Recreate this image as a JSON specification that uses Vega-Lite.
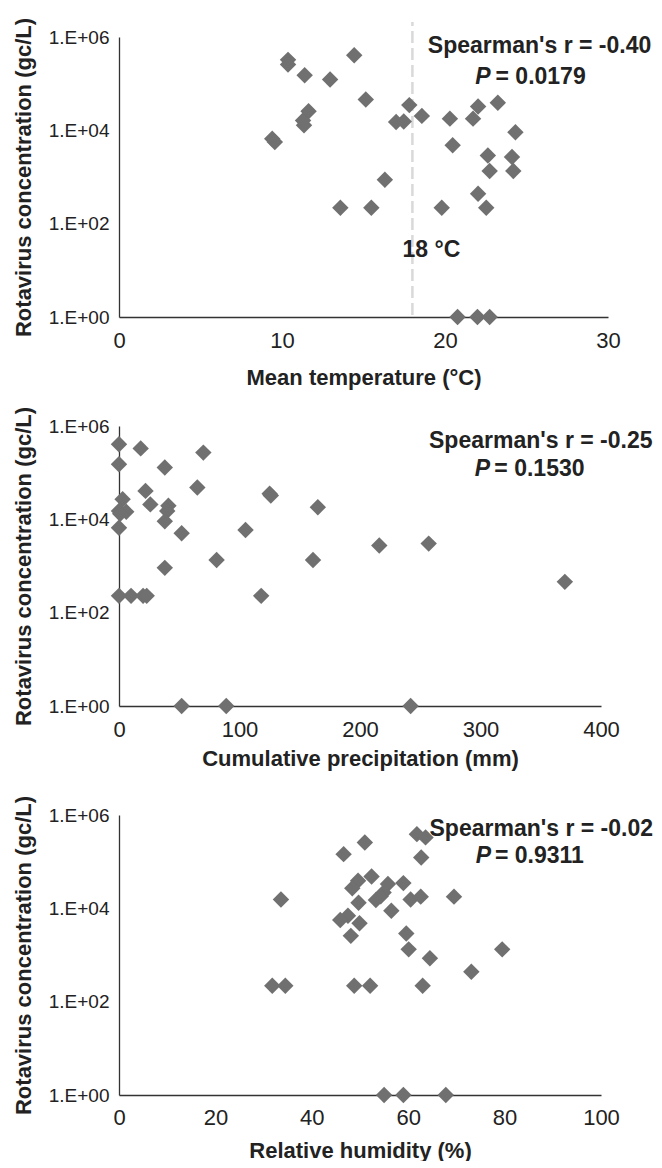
{
  "$schema": "https://vega.github.io/schema/vega-lite/v6.json",
  "padding": {"left": 12, "top": 17, "right": 0, "bottom": 0},
  "background": "white",
  "bounds": "flush",
  "spacing": 109,
  "datasets": {
    "temp": [
      {"t": 10.37, "c": 324000}, {"t": 10.37, "c": 257000}, {"t": 11.39, "c": 151000}, {"t": 12.95, "c": 123000},
      {"t": 14.43, "c": 407000}, {"t": 15.14, "c": 45700}, {"t": 11.63, "c": 25700}, {"t": 11.29, "c": 16200},
      {"t": 11.35, "c": 12900}, {"t": 9.4, "c": 6610}, {"t": 9.56, "c": 5620}, {"t": 17.0, "c": 15100},
      {"t": 17.47, "c": 15500}, {"t": 17.81, "c": 34700}, {"t": 18.58, "c": 20400}, {"t": 20.3, "c": 17800},
      {"t": 20.47, "c": 4790}, {"t": 21.72, "c": 17800}, {"t": 22.03, "c": 32400}, {"t": 23.24, "c": 38900},
      {"t": 24.32, "c": 9120}, {"t": 22.63, "c": 2880}, {"t": 22.74, "c": 1350}, {"t": 24.11, "c": 2690},
      {"t": 24.19, "c": 1350}, {"t": 16.31, "c": 871}, {"t": 13.58, "c": 219}, {"t": 15.48, "c": 219},
      {"t": 19.8, "c": 219}, {"t": 22.03, "c": 437}, {"t": 22.53, "c": 219}, {"t": 20.77, "c": 1},
      {"t": 21.99, "c": 1}, {"t": 22.74, "c": 1}
    ],
    "precip": [
      {"p": 0, "c": 407000}, {"p": 0, "c": 151000}, {"p": 18, "c": 331000}, {"p": 70, "c": 269000},
      {"p": 38, "c": 129000}, {"p": 22, "c": 40700}, {"p": 65, "c": 47900}, {"p": 125, "c": 35500},
      {"p": 126, "c": 32400}, {"p": 3, "c": 26900}, {"p": 26, "c": 20900}, {"p": 41, "c": 19500},
      {"p": 40, "c": 15100}, {"p": 0, "c": 15100}, {"p": 6, "c": 14500}, {"p": 1, "c": 13200},
      {"p": 38, "c": 9120}, {"p": 0, "c": 6610}, {"p": 52, "c": 5010}, {"p": 105, "c": 5890},
      {"p": 165, "c": 18200}, {"p": 81, "c": 1350}, {"p": 161, "c": 1350}, {"p": 38, "c": 912},
      {"p": 216, "c": 2750}, {"p": 257, "c": 3020}, {"p": 0, "c": 229}, {"p": 10, "c": 229},
      {"p": 20, "c": 229}, {"p": 23, "c": 229}, {"p": 118, "c": 229}, {"p": 370, "c": 457},
      {"p": 52, "c": 1}, {"p": 89, "c": 1}, {"p": 242, "c": 1}
    ],
    "hum": [
      {"h": 61.8, "c": 389000}, {"h": 63.6, "c": 331000}, {"h": 51.0, "c": 257000}, {"h": 46.6, "c": 145000},
      {"h": 62.7, "c": 123000}, {"h": 52.4, "c": 47900}, {"h": 49.6, "c": 38900}, {"h": 48.4, "c": 26900},
      {"h": 59.0, "c": 34700}, {"h": 55.8, "c": 33100}, {"h": 54.9, "c": 21900}, {"h": 54.3, "c": 18200},
      {"h": 53.3, "c": 15100}, {"h": 60.5, "c": 15500}, {"h": 62.6, "c": 17800}, {"h": 69.5, "c": 17800},
      {"h": 33.6, "c": 15500}, {"h": 49.7, "c": 13200}, {"h": 56.5, "c": 8910}, {"h": 47.5, "c": 6920},
      {"h": 45.9, "c": 5620}, {"h": 49.9, "c": 4790}, {"h": 48.1, "c": 2570}, {"h": 59.6, "c": 2880},
      {"h": 60.1, "c": 1320}, {"h": 64.5, "c": 851}, {"h": 79.5, "c": 1320}, {"h": 73.1, "c": 437},
      {"h": 31.8, "c": 219}, {"h": 34.5, "c": 219}, {"h": 48.8, "c": 219}, {"h": 52.1, "c": 219},
      {"h": 63.0, "c": 219}, {"h": 55.0, "c": 1}, {"h": 59.0, "c": 1}, {"h": 67.8, "c": 1}
    ]
  },
  "vconcat": [
    {
      "width": 489,
      "height": 280,
      "layer": [
        {
          "data": {"values": [{"x": 18, "y": 1.1, "y2": 2100000}]},
          "mark": {"type": "rule", "color": "#d9d9d9", "strokeWidth": 2.5, "strokeDash": [12, 5]},
          "encoding": {
            "x": {"field": "x", "type": "quantitative", "scale": {"domain": [0, 30], "nice": false}},
            "y": {"field": "y", "type": "quantitative", "scale": {"type": "log", "domain": [1, 1000000], "nice": false}},
            "y2": {"field": "y2"}
          }
        },
        {
          "data": {"name": "temp"},
          "mark": {"type": "point", "shape": "diamond", "filled": true, "size": 270, "color": "#707070", "opacity": 1},
          "encoding": {
            "x": {"field": "t", "type": "quantitative", "scale": {"domain": [0, 30], "nice": false},
              "axis": {"values": [0, 10, 20, 30], "title": "Mean temperature (°C)", "titlePadding": 16, "labelPadding": 13}},
            "y": {"field": "c", "type": "quantitative", "scale": {"type": "log", "domain": [1, 1000000], "nice": false},
              "axis": {"values": [1, 100, 10000, 1000000], "title": "Rotavirus concentration (gc/L)",
                "labelExpr": "datum.value == 1 ? '1.E+00' : datum.value == 100 ? '1.E+02' : datum.value == 10000 ? '1.E+04' : '1.E+06'"}}
          }
        },
        {
          "data": {"values": [
            {"x": 25.8, "y": 447000, "label": "Spearman's r = -0.40", "a": "center"},
            {"x": 22.8, "y": 96800, "label": "P", "a": "right"},
            {"x": 23.1, "y": 96800, "label": "= 0.0179", "a": "left"},
            {"x": 19.17, "y": 19, "label": "18 °C", "a": "center"}
          ]},
          "layer": [
            {"transform": [{"filter": "datum.a == 'center'"}],
             "mark": {"type": "text", "align": "center", "baseline": "alphabetic", "fontSize": 23, "fontWeight": "bold", "font": "Liberation Sans", "color": "#222"},
             "encoding": {"x": {"field": "x", "type": "quantitative"}, "y": {"field": "y", "type": "quantitative"}, "text": {"field": "label"}}},
            {"transform": [{"filter": "datum.a == 'right'"}],
             "mark": {"type": "text", "align": "right", "baseline": "alphabetic", "fontSize": 23, "fontWeight": "bold", "fontStyle": "italic", "font": "Liberation Sans", "color": "#222"},
             "encoding": {"x": {"field": "x", "type": "quantitative"}, "y": {"field": "y", "type": "quantitative"}, "text": {"field": "label"}}},
            {"transform": [{"filter": "datum.a == 'left'"}],
             "mark": {"type": "text", "align": "left", "baseline": "alphabetic", "fontSize": 23, "fontWeight": "bold", "font": "Liberation Sans", "color": "#222"},
             "encoding": {"x": {"field": "x", "type": "quantitative"}, "y": {"field": "y", "type": "quantitative"}, "text": {"field": "label"}}}
          ]
        }
      ]
    },
    {
      "width": 482,
      "height": 280,
      "layer": [
        {
          "data": {"name": "precip"},
          "mark": {"type": "point", "shape": "diamond", "filled": true, "size": 270, "color": "#707070", "opacity": 1},
          "encoding": {
            "x": {"field": "p", "type": "quantitative", "scale": {"domain": [0, 400], "nice": false},
              "axis": {"values": [0, 100, 200, 300, 400], "title": "Cumulative precipitation (mm)", "titlePadding": 8, "labelPadding": 13}},
            "y": {"field": "c", "type": "quantitative", "scale": {"type": "log", "domain": [1, 1000000], "nice": false},
              "axis": {"values": [1, 100, 10000, 1000000], "title": "Rotavirus concentration (gc/L)",
                "labelExpr": "datum.value == 1 ? '1.E+00' : datum.value == 100 ? '1.E+02' : datum.value == 10000 ? '1.E+04' : '1.E+06'"}}
          }
        },
        {
          "data": {"values": [
            {"x": 350, "y": 344000, "label": "Spearman's r = -0.25", "a": "center"},
            {"x": 308, "y": 84800, "label": "P", "a": "right"},
            {"x": 311.5, "y": 84800, "label": "= 0.1530", "a": "left"}
          ]},
          "layer": [
            {"transform": [{"filter": "datum.a == 'center'"}],
             "mark": {"type": "text", "align": "center", "baseline": "alphabetic", "fontSize": 23, "fontWeight": "bold", "font": "Liberation Sans", "color": "#222"},
             "encoding": {"x": {"field": "x", "type": "quantitative"}, "y": {"field": "y", "type": "quantitative"}, "text": {"field": "label"}}},
            {"transform": [{"filter": "datum.a == 'right'"}],
             "mark": {"type": "text", "align": "right", "baseline": "alphabetic", "fontSize": 23, "fontWeight": "bold", "fontStyle": "italic", "font": "Liberation Sans", "color": "#222"},
             "encoding": {"x": {"field": "x", "type": "quantitative"}, "y": {"field": "y", "type": "quantitative"}, "text": {"field": "label"}}},
            {"transform": [{"filter": "datum.a == 'left'"}],
             "mark": {"type": "text", "align": "left", "baseline": "alphabetic", "fontSize": 23, "fontWeight": "bold", "font": "Liberation Sans", "color": "#222"},
             "encoding": {"x": {"field": "x", "type": "quantitative"}, "y": {"field": "y", "type": "quantitative"}, "text": {"field": "label"}}}
          ]
        }
      ]
    },
    {
      "width": 482,
      "height": 280,
      "layer": [
        {
          "data": {"name": "hum"},
          "mark": {"type": "point", "shape": "diamond", "filled": true, "size": 270, "color": "#707070", "opacity": 1},
          "encoding": {
            "x": {"field": "h", "type": "quantitative", "scale": {"domain": [0, 100], "nice": false},
              "axis": {"values": [0, 20, 40, 60, 80, 100], "title": "Relative humidity (%)", "titlePadding": 12, "labelPadding": 12}},
            "y": {"field": "c", "type": "quantitative", "scale": {"type": "log", "domain": [1, 1000000], "nice": false},
              "axis": {"values": [1, 100, 10000, 1000000], "title": "Rotavirus concentration (gc/L)",
                "labelExpr": "datum.value == 1 ? '1.E+00' : datum.value == 100 ? '1.E+02' : datum.value == 10000 ? '1.E+04' : '1.E+06'"}}
          }
        },
        {
          "data": {"values": [
            {"x": 87.6, "y": 355000, "label": "Spearman's r = -0.02", "a": "center"},
            {"x": 77.2, "y": 92000, "label": "P", "a": "right"},
            {"x": 78.0, "y": 92000, "label": "= 0.9311", "a": "left"}
          ]},
          "layer": [
            {"transform": [{"filter": "datum.a == 'center'"}],
             "mark": {"type": "text", "align": "center", "baseline": "alphabetic", "fontSize": 23, "fontWeight": "bold", "font": "Liberation Sans", "color": "#222"},
             "encoding": {"x": {"field": "x", "type": "quantitative"}, "y": {"field": "y", "type": "quantitative"}, "text": {"field": "label"}}},
            {"transform": [{"filter": "datum.a == 'right'"}],
             "mark": {"type": "text", "align": "right", "baseline": "alphabetic", "fontSize": 23, "fontWeight": "bold", "fontStyle": "italic", "font": "Liberation Sans", "color": "#222"},
             "encoding": {"x": {"field": "x", "type": "quantitative"}, "y": {"field": "y", "type": "quantitative"}, "text": {"field": "label"}}},
            {"transform": [{"filter": "datum.a == 'left'"}],
             "mark": {"type": "text", "align": "left", "baseline": "alphabetic", "fontSize": 23, "fontWeight": "bold", "font": "Liberation Sans", "color": "#222"},
             "encoding": {"x": {"field": "x", "type": "quantitative"}, "y": {"field": "y", "type": "quantitative"}, "text": {"field": "label"}}}
          ]
        }
      ]
    }
  ],
  "config": {
    "font": "Liberation Sans",
    "view": {"stroke": null},
    "axis": {
      "grid": false, "ticks": false, "domainColor": "#333", "domainWidth": 1.3,
      "labelFont": "Liberation Sans", "labelColor": "#222", "labelFlush": false, "labelOverlap": false, "labelBound": false,
      "titleFont": "Liberation Sans", "titleFontWeight": "bold", "titleFontSize": 22, "titleColor": "#222"
    },
    "axisY": {"labelFontSize": 19, "labelPadding": 10, "titlePadding": 13},
    "axisX": {"labelFontSize": 22}
  }
}
